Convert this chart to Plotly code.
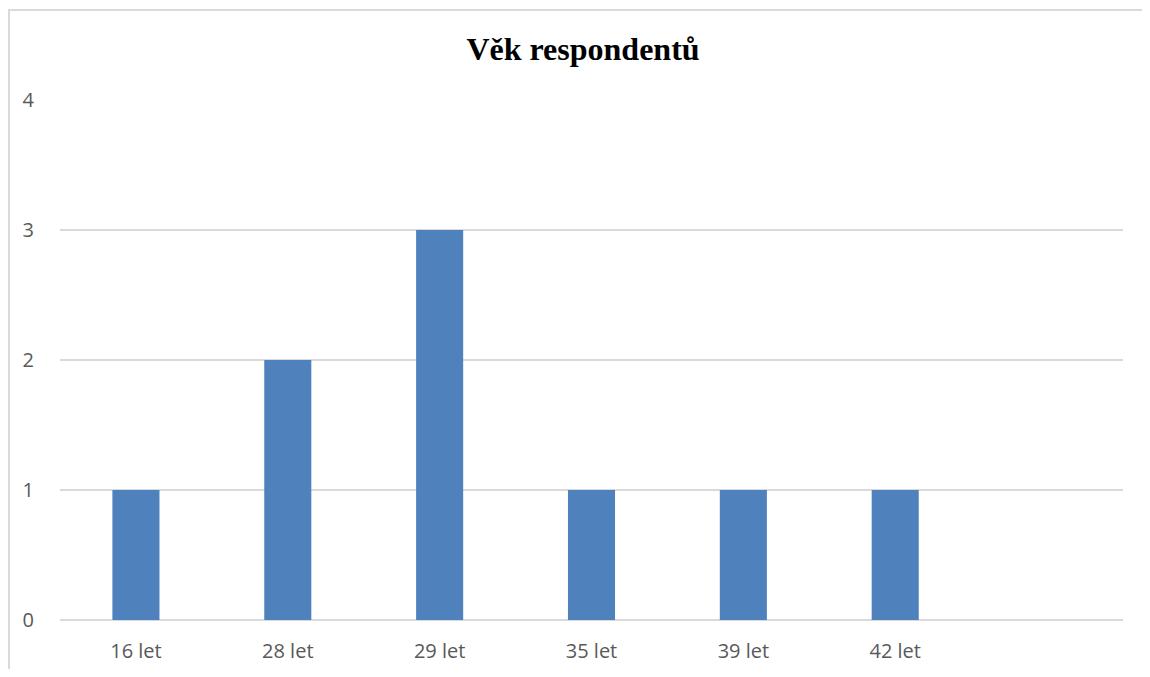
import plotly.graph_objects as go

categories = ["16 let", "28 let", "29 let", "35 let", "39 let", "42 let"]
counts = [1, 2, 3, 1, 1, 1]
y_ticks = [0, 1, 2, 3, 4]

fig = go.Figure(go.Bar(x=categories, y=counts, marker=dict(color="#4f81bd", line=dict(width=0))))

# page body has an 8px margin, so the figure is placed at (8, 8); keep it inside the viewport
OFF = 8
W, H = 1150 - 2 * OFF, 677 - 2 * OFF
l, t = 60 - OFF, 100 - OFF
r = W - (1123 - OFF)
b = H - (620 - OFF)
pw, ph = W - l - r, H - t - b

def px_x(p):
    return (p - OFF - l) / pw

def px_y(p):
    return (620 - p) / ph

bx0, bx1 = px_x(9), px_x(1300)
by0, by1 = px_y(800), px_y(10)

fig.update_layout(
    width=W, height=H,
    margin=dict(l=l, r=r, t=t, b=b, autoexpand=False),
    paper_bgcolor="white", plot_bgcolor="white",
    bargap=0.69,
    showlegend=False,
    title=dict(text="<b>Věk respondentů</b>", x=px_x(583), xanchor="center", xref="paper",
               y=1 - 41 / H, yanchor="middle",
               font=dict(family="Liberation Serif", size=32, color="#000000")),
    xaxis=dict(type="category", range=[-0.5, 6.5], showgrid=False, showline=False, zeroline=False,
               automargin=False,
               tickfont=dict(family="Open Sans", size=20, color="#595959"),
               ticks="", ticklabelstandoff=17),
    yaxis=dict(range=[0, 4], tickvals=y_ticks, showgrid=True, gridcolor="#d9d9d9", gridwidth=1.5,
               zeroline=True, zerolinecolor="#d9d9d9", zerolinewidth=1.5, showline=False,
               automargin=False,
               tickfont=dict(family="Open Sans", size=20, color="#595959"),
               ticks="", ticklabelstandoff=25),
    shapes=[dict(type="path", xref="paper", yref="paper",
                 path=f"M {bx0},{by0} L {bx0},{by1} L {bx1},{by1}",
                 line=dict(color="#d9d9d9", width=2), layer="below")],
)

fig.write_html("out.html")
